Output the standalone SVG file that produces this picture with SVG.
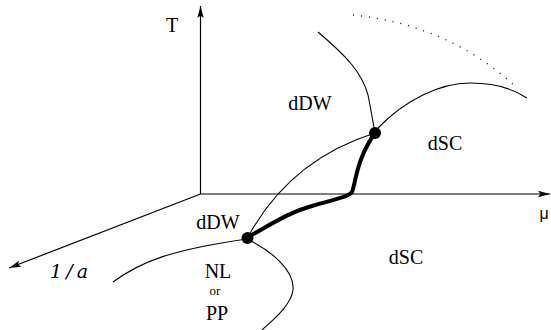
<svg xmlns="http://www.w3.org/2000/svg" width="551" height="330" viewBox="0 0 551 330">
<style>
  .lbl { font-family: "Liberation Serif", "Times New Roman", serif; font-size: 20px; fill: #000; }
  .axis { stroke: #000; stroke-width: 1.2; fill: none; }
  .thin { stroke: #000; stroke-width: 1.1; fill: none; }
  .thick { stroke: #000; stroke-width: 4; fill: none; stroke-linecap: round; stroke-linejoin: round; }
  .dot { stroke: #000; stroke-width: 1.3; fill: none; stroke-dasharray: 1 7; }
</style>
<defs>
  <marker id="arr" viewBox="0 0 12 8" refX="12" refY="4" markerWidth="12" markerHeight="8" markerUnits="userSpaceOnUse" orient="auto">
    <path d="M0,0.8 L12,4 L0,7.2 L2.5,4 Z" fill="#000"/>
  </marker>
</defs>
<rect width="551" height="330" fill="#fff"/>
<g id="axes">
  <line class="axis" x1="200.5" y1="194" x2="200.5" y2="6" marker-end="url(#arr)"/>
  <line class="axis" x1="200.5" y1="194" x2="550" y2="194" marker-end="url(#arr)"/>
  <line class="axis" x1="200.5" y1="194" x2="9" y2="268" marker-end="url(#arr)"/>
</g>
<g id="connectors">
  <path class="thin" d="M318,32 C345,55 362,72 368,95 C371,110 373,122 375,133"/>
  <path class="thin" d="M378,128 C405,100 440,83 470,83 C495,83 515,90 527,98"/>
  <path class="thin" d="M248,237 C268,200 305,155 375,133"/>
  <path class="thin" d="M113,282 C140,262 170,250 247,239"/>
  <path class="thin" d="M247,239 C270,250 295,270 293,290 C291,305 275,318 262,330"/>
  <path class="thick" d="M248,237 C275,222 290,212 312,206 C335,199 349,197 352,192 C356,182 356,160 375,133"/>
  <path class="dot" d="M353,15 Q450,25 517,88"/>
</g>
<g id="points">
  <circle cx="375" cy="133" r="6" fill="#000"/>
  <circle cx="247.5" cy="238" r="6" fill="#000"/>
</g>
<g id="labels">
  <text class="lbl" x="172" y="32" text-anchor="middle">T</text>
  <text x="544" y="219" text-anchor="middle" style="font-family:'Liberation Sans', Arial, sans-serif; font-size:16px">μ</text>
  <text x="50" y="278" textLength="38" style="font-family:'DejaVu Serif', serif; font-size:19px; font-style:italic">1/a</text>
  <text class="lbl" x="310" y="110" text-anchor="middle">dDW</text>
  <text class="lbl" x="445" y="150" text-anchor="middle">dSC</text>
  <text class="lbl" x="218" y="229" text-anchor="middle">dDW</text>
  <text class="lbl" x="406" y="264" text-anchor="middle">dSC</text>
  <text class="lbl" x="218" y="278" text-anchor="middle">NL</text>
  <text class="lbl" x="215" y="295" text-anchor="middle" style="font-size:13px">or</text>
  <text class="lbl" x="217" y="320" text-anchor="middle">PP</text>
</g>
</svg>
